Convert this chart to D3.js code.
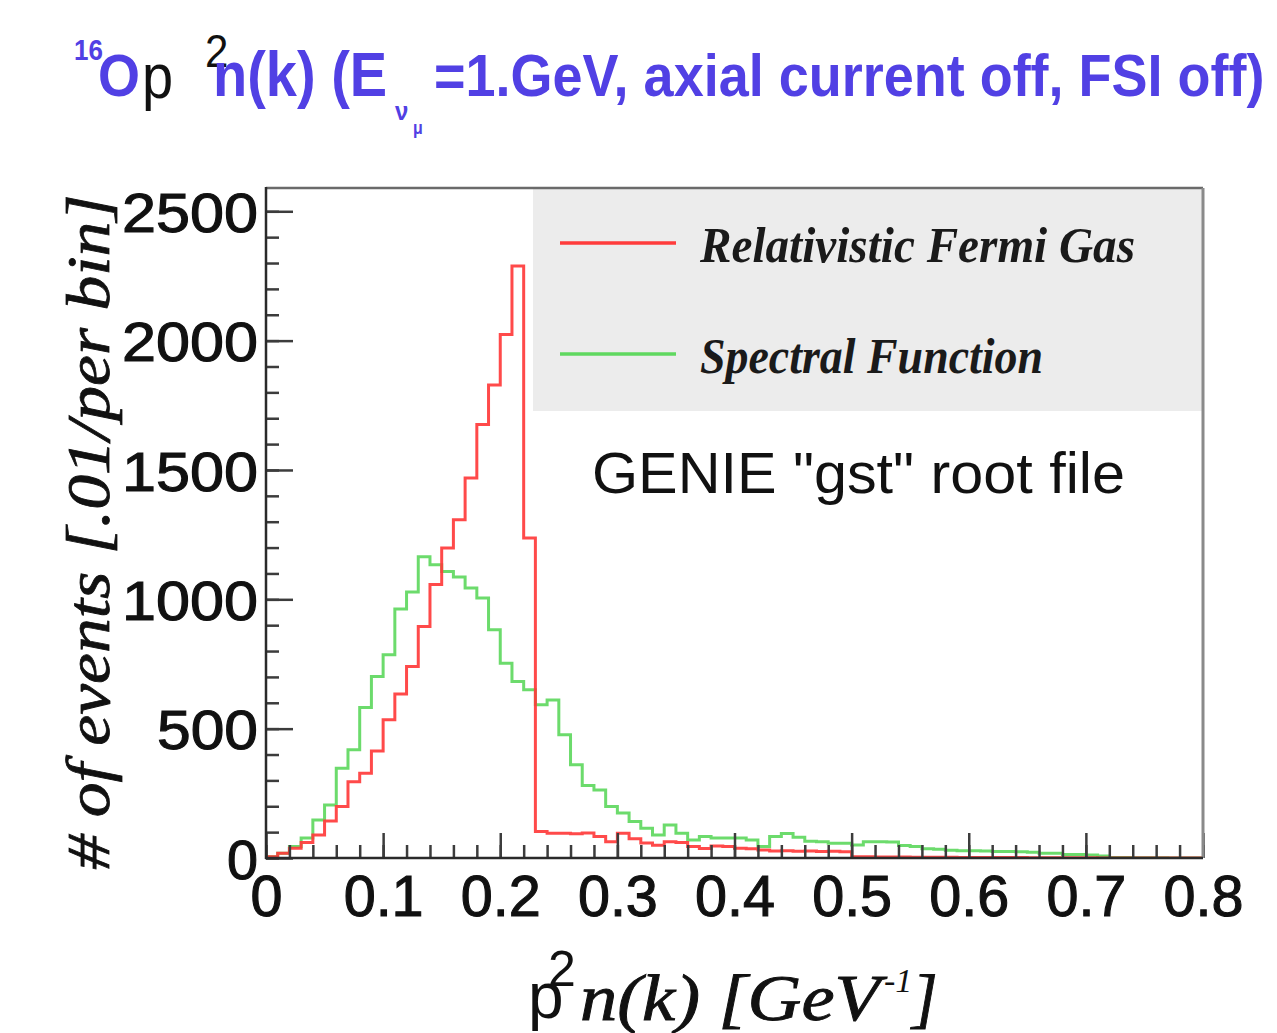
<!DOCTYPE html>
<html>
<head>
<meta charset="utf-8">
<script src="https://cdn.jsdelivr.net/npm/d3@7"></script>
<style>
  body { margin: 0; background: #fff; }
  svg { display: block; }
</style>
</head>
<body>
<svg id="chart" width="1277" height="1033"></svg>
<script>
// ---- data: 80 bins of 0.01 in p^2 n(k), events per bin ----
const binWidth = 0.01;
const binLowEdges = d3.range(80).map(i => +(i * binWidth).toFixed(2));

const rfgCounts = [
  5, 18, 38, 60, 89, 143, 199, 295, 328, 414,
  534, 634, 740, 895, 1057, 1198, 1308, 1469, 1676, 1828,
  2024, 2288, 1237, 102, 96, 96, 94, 97, 83, 63,
  96, 74, 58, 49, 63, 60, 44, 37, 46, 44,
  38, 36, 31, 27, 28, 26, 27, 25, 26, 24,
  5, 5, 4, 4, 4, 3, 3, 3, 3, 2,
  2, 2, 2, 2, 2, 1, 1, 1, 1, 1,
  1, 0, 0, 0, 0, 0, 0, 0, 0, 0
];

const sfCounts = [
  5, 18, 44, 77, 147, 205, 347, 418, 582, 702,
  786, 963, 1028, 1165, 1134, 1108, 1086, 1044, 1005, 882,
  753, 682, 650, 592, 611, 476, 360, 280, 263, 199,
  174, 141, 115, 89, 128, 96, 70, 83, 77, 77,
  77, 70, 44, 83, 95, 80, 65, 63, 57, 57,
  50, 63, 63, 62, 48, 44, 36, 34, 30, 28,
  28, 27, 25, 25, 24, 22, 18, 18, 14, 14,
  12, 8, 2, 2, 1, 1, 1, 0, 0, 0
];

const seriesNames = ["Relativistic Fermi Gas", "Spectral Function"];
const seriesColors = ["#ff3b3b", "#5fd85f"];

const xTickValues = [0, 0.1, 0.2, 0.3, 0.4, 0.5, 0.6, 0.7, 0.8];
const xTickLabels = ["0", "0.1", "0.2", "0.3", "0.4", "0.5", "0.6", "0.7", "0.8"];
const yTickValues = [0, 500, 1000, 1500, 2000, 2500];
const yTickLabels = ["0", "500", "1000", "1500", "2000", "2500"];

// ---- layout ----
const svg = d3.select("#chart");
const plot = { left: 266, right: 1203, top: 188, bottom: 858 };
const x = d3.scaleLinear().domain([0, 0.8]).range([plot.left, plot.right]);
const y = d3.scaleLinear().domain([0, 2590]).range([plot.bottom, plot.top]);

const sans = "'Liberation Sans', Arial, Helvetica, sans-serif";
const serif = "'Liberation Serif', 'Times New Roman', serif";
const titleBlue = "#5140e4";

svg.append("rect").attr("width", 1277).attr("height", 1033).attr("fill", "#fff");

// legend panel (drawn first so the frame sits on top)
svg.append("rect")
  .attr("x", 533).attr("y", plot.top)
  .attr("width", plot.right - 533).attr("height", 223)
  .attr("fill", "#ececec");

// clip for histograms
svg.append("clipPath").attr("id", "plotClip")
  .append("rect")
  .attr("x", plot.left).attr("y", plot.top)
  .attr("width", plot.right - plot.left).attr("height", plot.bottom - plot.top);

// ---- histograms as step outlines ----
function stepPoints(counts) {
  const pts = counts.map((c, i) => [binLowEdges[i], c]);
  pts.push([binLowEdges[counts.length - 1] + binWidth, counts[counts.length - 1]]);
  return pts;
}
const stepLine = d3.line()
  .x(d => x(d[0]))
  .y(d => y(d[1]))
  .curve(d3.curveStepAfter);

const histG = svg.append("g").attr("clip-path", "url(#plotClip)");
[sfCounts, rfgCounts].forEach((counts, k) => {
  const color = k === 0 ? seriesColors[1] : seriesColors[0];
  histG.append("path")
    .datum(stepPoints(counts))
    .attr("d", stepLine)
    .attr("fill", "none")
    .attr("stroke", color)
    .attr("stroke-width", 3)
    .attr("stroke-linejoin", "miter")
    .attr("opacity", 0.92);
});

// ---- axes ticks (pointing into the frame) ----
const tickColor = "#3c3c3c";
function styleTicks(g, width) {
  g.select(".domain").remove();
  g.selectAll(".tick line").attr("stroke", tickColor).attr("stroke-width", width);
  g.selectAll(".tick text").remove();
}

// y: major every 500, minor every 100
svg.append("g").attr("transform", `translate(${plot.left},0)`)
  .call(d3.axisRight(y).tickValues(d3.range(0, 2600, 100)).tickSize(13))
  .call(g => styleTicks(g, 2.5));
svg.append("g").attr("transform", `translate(${plot.left},0)`)
  .call(d3.axisRight(y).tickValues(yTickValues).tickSize(27))
  .call(g => styleTicks(g, 2.5));

// x: major every 0.1, minor every 0.02
svg.append("g").attr("transform", `translate(0,${plot.bottom})`)
  .call(d3.axisTop(x).tickValues(d3.range(0, 41).map(i => i * 0.02)).tickSize(13))
  .call(g => styleTicks(g, 2.5));
svg.append("g").attr("transform", `translate(0,${plot.bottom})`)
  .call(d3.axisTop(x).tickValues(xTickValues).tickSize(25))
  .call(g => styleTicks(g, 2.5));

// ---- frame ----
svg.append("line").attr("x1", plot.left).attr("x2", plot.right)
  .attr("y1", plot.top).attr("y2", plot.top)
  .attr("stroke", "#6a6a6a").attr("stroke-width", 2.5);
svg.append("line").attr("x1", plot.right).attr("x2", plot.right)
  .attr("y1", plot.top).attr("y2", plot.bottom)
  .attr("stroke", "#8a8a8a").attr("stroke-width", 3);
svg.append("line").attr("x1", plot.left).attr("x2", plot.left)
  .attr("y1", plot.top - 1).attr("y2", plot.bottom + 1)
  .attr("stroke", "#2a2a2a").attr("stroke-width", 2.5);
svg.append("line").attr("x1", plot.left - 1).attr("x2", plot.right)
  .attr("y1", plot.bottom).attr("y2", plot.bottom)
  .attr("stroke", "#2a2a2a").attr("stroke-width", 2.5);

// ---- tick labels ----
const yLab = svg.append("g")
  .attr("transform", `translate(${plot.left},0)`)
  .call(d3.axisLeft(y).tickValues(yTickValues).tickSize(0).tickPadding(8)
    .tickFormat((d, i) => yTickLabels[i]));
yLab.select(".domain").remove();
yLab.selectAll(".tick text")
  .attr("font-family", sans).attr("font-size", 56).attr("fill", "#111")
  .attr("stroke", "#111").attr("stroke-width", 1.1)
  .attr("dy", "0.36em")
  .attr("textLength", (d, i) => yTickLabels[i].length * 35 - 4)
  .attr("lengthAdjust", "spacingAndGlyphs");

const xLab = svg.append("g")
  .attr("transform", `translate(0,${plot.bottom})`)
  .call(d3.axisBottom(x).tickValues(xTickValues).tickSize(0).tickPadding(17)
    .tickFormat((d, i) => xTickLabels[i]));
xLab.select(".domain").remove();
xLab.selectAll(".tick text")
  .attr("font-family", sans).attr("font-size", 58).attr("fill", "#111")
  .attr("stroke", "#111").attr("stroke-width", 1.1)
  .attr("textLength", (d, i) => xTickLabels[i].length === 1 ? 32 : 80)
  .attr("lengthAdjust", "spacingAndGlyphs");

// ---- axis titles ----
svg.append("text")
  .attr("transform", "translate(109,532) rotate(-90)")
  .attr("text-anchor", "middle")
  .attr("font-family", serif).attr("font-style", "italic").attr("font-size", 62)
  .attr("fill", "#111").attr("stroke", "#111").attr("stroke-width", 0.8)
  .attr("textLength", 675).attr("lengthAdjust", "spacingAndGlyphs")
  .text("# of events [.01/per bin]");

const xt = svg.append("g").attr("fill", "#111");
xt.append("text").attr("x", 528).attr("y", 1018)
  .attr("font-family", sans).attr("font-size", 64).text("p");
xt.append("text").attr("x", 548).attr("y", 986)
  .attr("font-family", sans).attr("font-size", 50).text("2");
xt.append("text").attr("x", 580).attr("y", 1020)
  .attr("font-family", serif).attr("font-style", "italic").attr("font-size", 66)
  .attr("stroke", "#111").attr("stroke-width", 0.9)
  .attr("textLength", 300).attr("lengthAdjust", "spacingAndGlyphs")
  .text("n(k) [GeV");
xt.append("text").attr("x", 884).attr("y", 992)
  .attr("font-family", serif).attr("font-style", "italic").attr("font-size", 34)
  .text("-1");
xt.append("text").attr("x", 912).attr("y", 1020)
  .attr("font-family", serif).attr("font-style", "italic").attr("font-size", 66)
  .attr("stroke", "#111").attr("stroke-width", 0.9)
  .text("]");

// ---- title (set at natural widths, stretched vertically about its baseline) ----
const titleBase = 96;
const tt = svg.append("g").attr("font-family", sans)
  .attr("transform", `translate(0,${titleBase}) scale(1,1.11) translate(0,${-titleBase})`);
tt.append("text").attr("x", 74).attr("y", 64).attr("font-size", 26)
  .attr("font-weight", "bold").attr("fill", titleBlue).text("16");
tt.append("text").attr("x", 98).attr("y", titleBase).attr("font-size", 54)
  .attr("font-weight", "bold").attr("fill", titleBlue).text("O");
tt.append("text").attr("x", 142).attr("y", titleBase + 2).attr("font-size", 56)
  .attr("fill", "#111").text("p");
tt.append("text").attr("x", 205).attr("y", 70).attr("font-size", 42)
  .attr("fill", "#111").text("2");
tt.append("text").attr("x", 213).attr("y", titleBase).attr("font-size", 56)
  .attr("font-weight", "bold").attr("fill", titleBlue).text("n(k) (E");
tt.append("text").attr("x", 395).attr("y", 118).attr("font-size", 24)
  .attr("font-weight", "bold").attr("fill", titleBlue).text("ν");
tt.append("text").attr("x", 413).attr("y", 130).attr("font-size", 16)
  .attr("font-weight", "bold").attr("fill", titleBlue).text("μ");
tt.append("text").attr("x", 434).attr("y", titleBase).attr("font-size", 54)
  .attr("font-weight", "bold").attr("fill", titleBlue)
  .text("=1.GeV, axial current off, FSI off)");

// ---- legend entries ----
const legendRows = [
  { name: seriesNames[0], color: seriesColors[0], y: 243, len: 435 },
  { name: seriesNames[1], color: seriesColors[1], y: 354, len: 343 }
];
const lg = svg.append("g");
legendRows.forEach(r => {
  lg.append("line").attr("x1", 560).attr("x2", 676)
    .attr("y1", r.y).attr("y2", r.y)
    .attr("stroke", r.color).attr("stroke-width", 3.5);
  lg.append("text").attr("x", 700).attr("y", r.y + 19)
    .attr("font-family", serif).attr("font-style", "italic").attr("font-weight", "bold")
    .attr("font-size", 50).attr("fill", "#1a1a1a")
    .attr("textLength", r.len).attr("lengthAdjust", "spacingAndGlyphs")
    .text(r.name);
});

// annotation
svg.append("text").attr("x", 592).attr("y", 493)
  .attr("font-family", sans).attr("font-size", 58).attr("fill", "#111")
  .attr("textLength", 533).attr("lengthAdjust", "spacingAndGlyphs")
  .text('GENIE "gst" root file');
</script>
</body>
</html>
